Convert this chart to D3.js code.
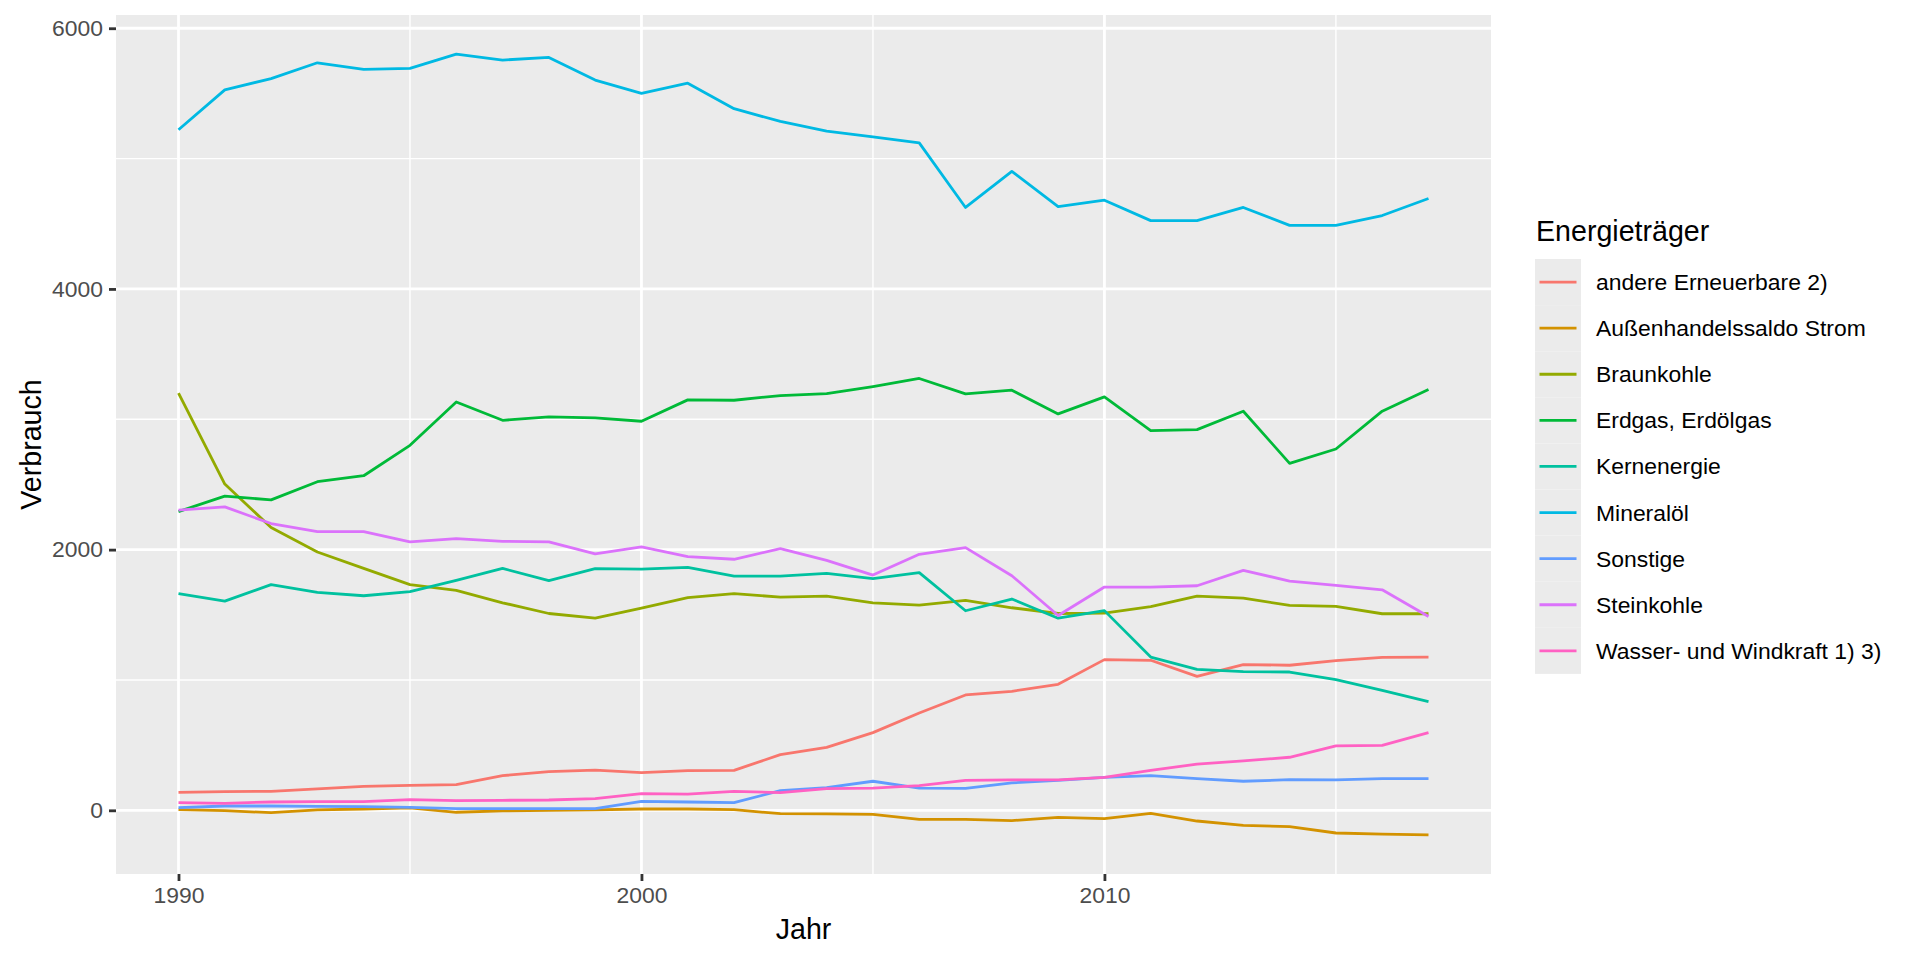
<!DOCTYPE html>
<html><head><meta charset="utf-8">
<script src="https://cdn.jsdelivr.net/npm/d3@7"></script>
<style>
html,body{margin:0;padding:0;background:#fff;}
text{font-family:"Liberation Sans",Arial,Helvetica,sans-serif;}
</style></head>
<body><svg id="chart" width="1920" height="960"></svg>
<script>
const years = [1990,1991,1992,1993,1994,1995,1996,1997,1998,1999,2000,2001,2002,2003,2004,2005,2006,2007,2008,2009,2010,2011,2012,2013,2014,2015,2016,2017];
const seriesNames = ["andere Erneuerbare 2)","Außenhandelssaldo Strom","Braunkohle","Erdgas, Erdölgas","Kernenergie","Mineralöl","Sonstige","Steinkohle","Wasser- und Windkraft 1) 3)"];
const andereErneuerbare = [138,143,146,164,184,192,197,266,297,309,289,304,307,427,483,596,747,885,913,967,1156,1151,1028,1118,1113,1148,1174,1176];
const aussenhandel = [5,-3,-18,3,10,18,-15,-5,0,3,10,10,5,-26,-28,-31,-69,-69,-79,-54,-64,-23,-82,-115,-125,-174,-182,-189];
const braunkohle = [3200,2503,2169,1982,1856,1731,1687,1592,1510,1474,1551,1631,1662,1636,1644,1592,1574,1610,1554,1510,1513,1562,1644,1628,1572,1564,1508,1508];
const erdgas = [2292,2410,2382,2521,2567,2800,3133,2992,3018,3010,2985,3149,3146,3182,3197,3251,3313,3195,3223,3041,3172,2913,2921,3062,2662,2772,3062,3228];
const kernenergie = [1662,1605,1731,1672,1646,1677,1764,1856,1762,1854,1851,1864,1797,1797,1818,1777,1823,1531,1621,1474,1532,1176,1082,1064,1061,1003,921,834];
const mineraloel = [5221,5527,5614,5735,5684,5692,5802,5756,5776,5602,5501,5578,5383,5285,5211,5167,5121,4625,4902,4632,4681,4524,4524,4625,4488,4488,4563,4694];
const sonstige = [20,33,33,31,28,23,13,13,13,13,69,64,59,151,174,223,171,169,210,230,253,266,243,223,235,233,243,243];
const steinkohle = [2303,2328,2200,2138,2138,2059,2085,2064,2059,1967,2021,1946,1926,2008,1918,1805,1964,2015,1800,1495,1713,1713,1723,1841,1759,1726,1692,1487];
const wasserWind = [59,54,64,66,66,82,74,77,79,90,128,125,146,136,166,171,189,230,233,233,253,307,355,379,407,494,499,596];
const seriesValues = [andereErneuerbare,aussenhandel,braunkohle,erdgas,kernenergie,mineraloel,sonstige,steinkohle,wasserWind];
const colors = ["#F8766D","#D39200","#93AA00","#00BA38","#00C19F","#00B9E3","#619CFF","#DB72FB","#FF61C3"];
const xMajor = [1990,2000,2010];
const xMinor = [1995,2005,2015];
const yMajor = [0,2000,4000,6000];
const yMinor = [1000,3000,5000];
const xTitle = "Jahr", yTitle = "Verbrauch", legendTitle = "Energieträger";

const series = seriesNames.map((name,i)=>({name, color:colors[i], values: years.map((y,j)=>({year:y, value:seriesValues[i][j]}))}));

const panel = {left:116, right:1491, top:15, bottom:874};
const xr = d3.extent(years), xpad = (xr[1]-xr[0])*0.05;
const allVals = seriesValues.flat();
const yr = d3.extent(allVals), ypad = (yr[1]-yr[0])*0.05;
const x = d3.scaleLinear().domain([xr[0]-xpad, xr[1]+xpad]).range([panel.left, panel.right]);
const y = d3.scaleLinear().domain([yr[0]-ypad, yr[1]+ypad]).range([panel.bottom, panel.top]);

const svg = d3.select("#chart");
svg.append("rect").attr("width",1920).attr("height",960).attr("fill","#fff");
svg.append("rect").attr("x",panel.left).attr("y",panel.top).attr("width",panel.right-panel.left).attr("height",panel.bottom-panel.top).attr("fill","#EBEBEB");

const grid = svg.append("g");
grid.selectAll(".ymin").data(yMinor).join("line").attr("x1",panel.left).attr("x2",panel.right).attr("y1",d=>y(d)).attr("y2",d=>y(d)).attr("stroke","#fff").attr("stroke-width",1.4);
grid.selectAll(".xmin").data(xMinor).join("line").attr("y1",panel.top).attr("y2",panel.bottom).attr("x1",d=>x(d)).attr("x2",d=>x(d)).attr("stroke","#fff").attr("stroke-width",1.4);
grid.selectAll(".ymaj").data(yMajor).join("line").attr("x1",panel.left).attr("x2",panel.right).attr("y1",d=>y(d)).attr("y2",d=>y(d)).attr("stroke","#fff").attr("stroke-width",2.8);
grid.selectAll(".xmaj").data(xMajor).join("line").attr("y1",panel.top).attr("y2",panel.bottom).attr("x1",d=>x(d)).attr("x2",d=>x(d)).attr("stroke","#fff").attr("stroke-width",2.8);

const line = d3.line().x(d=>x(d.year)).y(d=>y(d.value));
svg.append("g").selectAll("path").data(series).join("path")
  .attr("d",d=>line(d.values)).attr("fill","none").attr("stroke",d=>d.color).attr("stroke-width",2.8).attr("stroke-linejoin","round");

// axes
const xAxis = d3.axisBottom(x).tickValues(xMajor).tickFormat(d3.format("d")).tickSize(7).tickPadding(6);
const gx = svg.append("g").attr("transform",`translate(0,${panel.bottom})`).call(xAxis);
gx.select(".domain").remove();
gx.selectAll(".tick line").attr("stroke","#333333").attr("stroke-width",2.8);
gx.selectAll(".tick text").attr("fill","#4D4D4D").attr("font-size",22.9).attr("font-family","Liberation Sans, Arial, sans-serif");

const yAxis = d3.axisLeft(y).tickValues(yMajor).tickFormat(d3.format("d")).tickSize(7).tickPadding(6);
const gy = svg.append("g").attr("transform",`translate(${panel.left},0)`).call(yAxis);
gy.select(".domain").remove();
gy.selectAll(".tick line").attr("stroke","#333333").attr("stroke-width",2.8);
gy.selectAll(".tick text").attr("fill","#4D4D4D").attr("font-size",22.9).attr("font-family","Liberation Sans, Arial, sans-serif");

svg.append("text").attr("x",(panel.left+panel.right)/2).attr("y",939).attr("text-anchor","middle").attr("font-size",28.6).attr("fill","#000").text(xTitle);
svg.append("text").attr("transform",`translate(41,${(panel.top+panel.bottom)/2}) rotate(-90)`).attr("text-anchor","middle").attr("font-size",28.6).attr("fill","#000").text(yTitle);

// legend
const lg = svg.append("g");
lg.append("text").attr("x",1536).attr("y",240.5).attr("font-size",28.6).attr("fill","#000").text(legendTitle);
const keyTop = 259, keySize = 46.1, keyLeft = 1535;
const rows = lg.selectAll(".row").data(series).join("g").attr("transform",(d,i)=>`translate(${keyLeft},${keyTop+i*keySize})`);
rows.append("rect").attr("width",46).attr("height",keySize).attr("fill","#EBEBEB");
rows.append("line").attr("x1",4.5).attr("x2",41.5).attr("y1",keySize/2).attr("y2",keySize/2).attr("stroke",d=>d.color).attr("stroke-width",2.8);
rows.append("text").attr("x",61).attr("y",keySize/2).attr("dy","0.35em").attr("font-size",22.9).attr("fill","#000").text(d=>d.name);
</script></body></html>
